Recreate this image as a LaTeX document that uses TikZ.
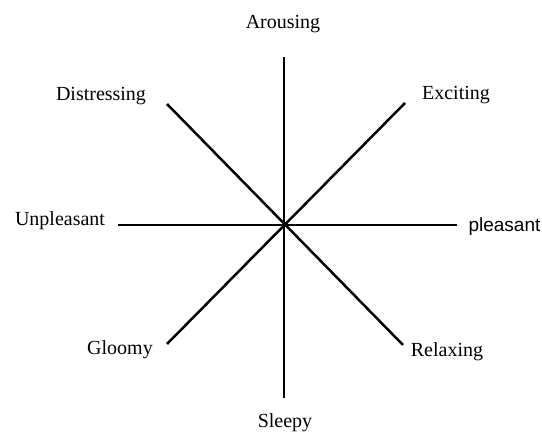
\documentclass[tikz,border=0pt]{standalone}
\usepackage{fontspec}
\setmainfont{Liberation Serif}
\newfontfamily\armsans{Liberation Sans}
\begin{document}
\begin{tikzpicture}[x=0.5pt,y=-0.5pt,
  axis/.style={line width=1.25pt,black},
  lab/.style={anchor=base,inner sep=0pt,font=\fontsize{10}{12}\selectfont},
  slab/.style={anchor=base,inner sep=0pt,font=\armsans\fontsize{9.5}{11}\selectfont}]
\useasboundingbox (0,0) rectangle (542,432);
\coordinate (c) at (284,225);
\coordinate (n) at (284,57);
\coordinate (s) at (284,398);
\coordinate (w) at (118,225);
\coordinate (e) at (457,225);
\coordinate (nw) at (167,104);
\coordinate (ne) at (405,103);
\coordinate (sw) at (167,344);
\coordinate (se) at (403,345);
\draw[axis] (n) -- (s);
\draw[axis] (w) -- (e);
\draw[axis] (nw) -- (se);
\draw[axis] (ne) -- (sw);
\node[lab] (arousing) at (283,29) {Arousing};
\node[lab] (distressing) at (101,101) {Distressing};
\node[lab] (exciting) at (456,100) {Exciting};
\node[lab] (unpleasant) at (60,226) {Unpleasant};
\node[slab] (pleasant) at (504.5,232) {pleasant};
\node[lab] (gloomy) at (120,355) {Gloomy};
\node[lab] (relaxing) at (447,357) {Relaxing};
\node[lab] (sleepy) at (285,428) {Sleepy};
\end{tikzpicture}
\end{document}
